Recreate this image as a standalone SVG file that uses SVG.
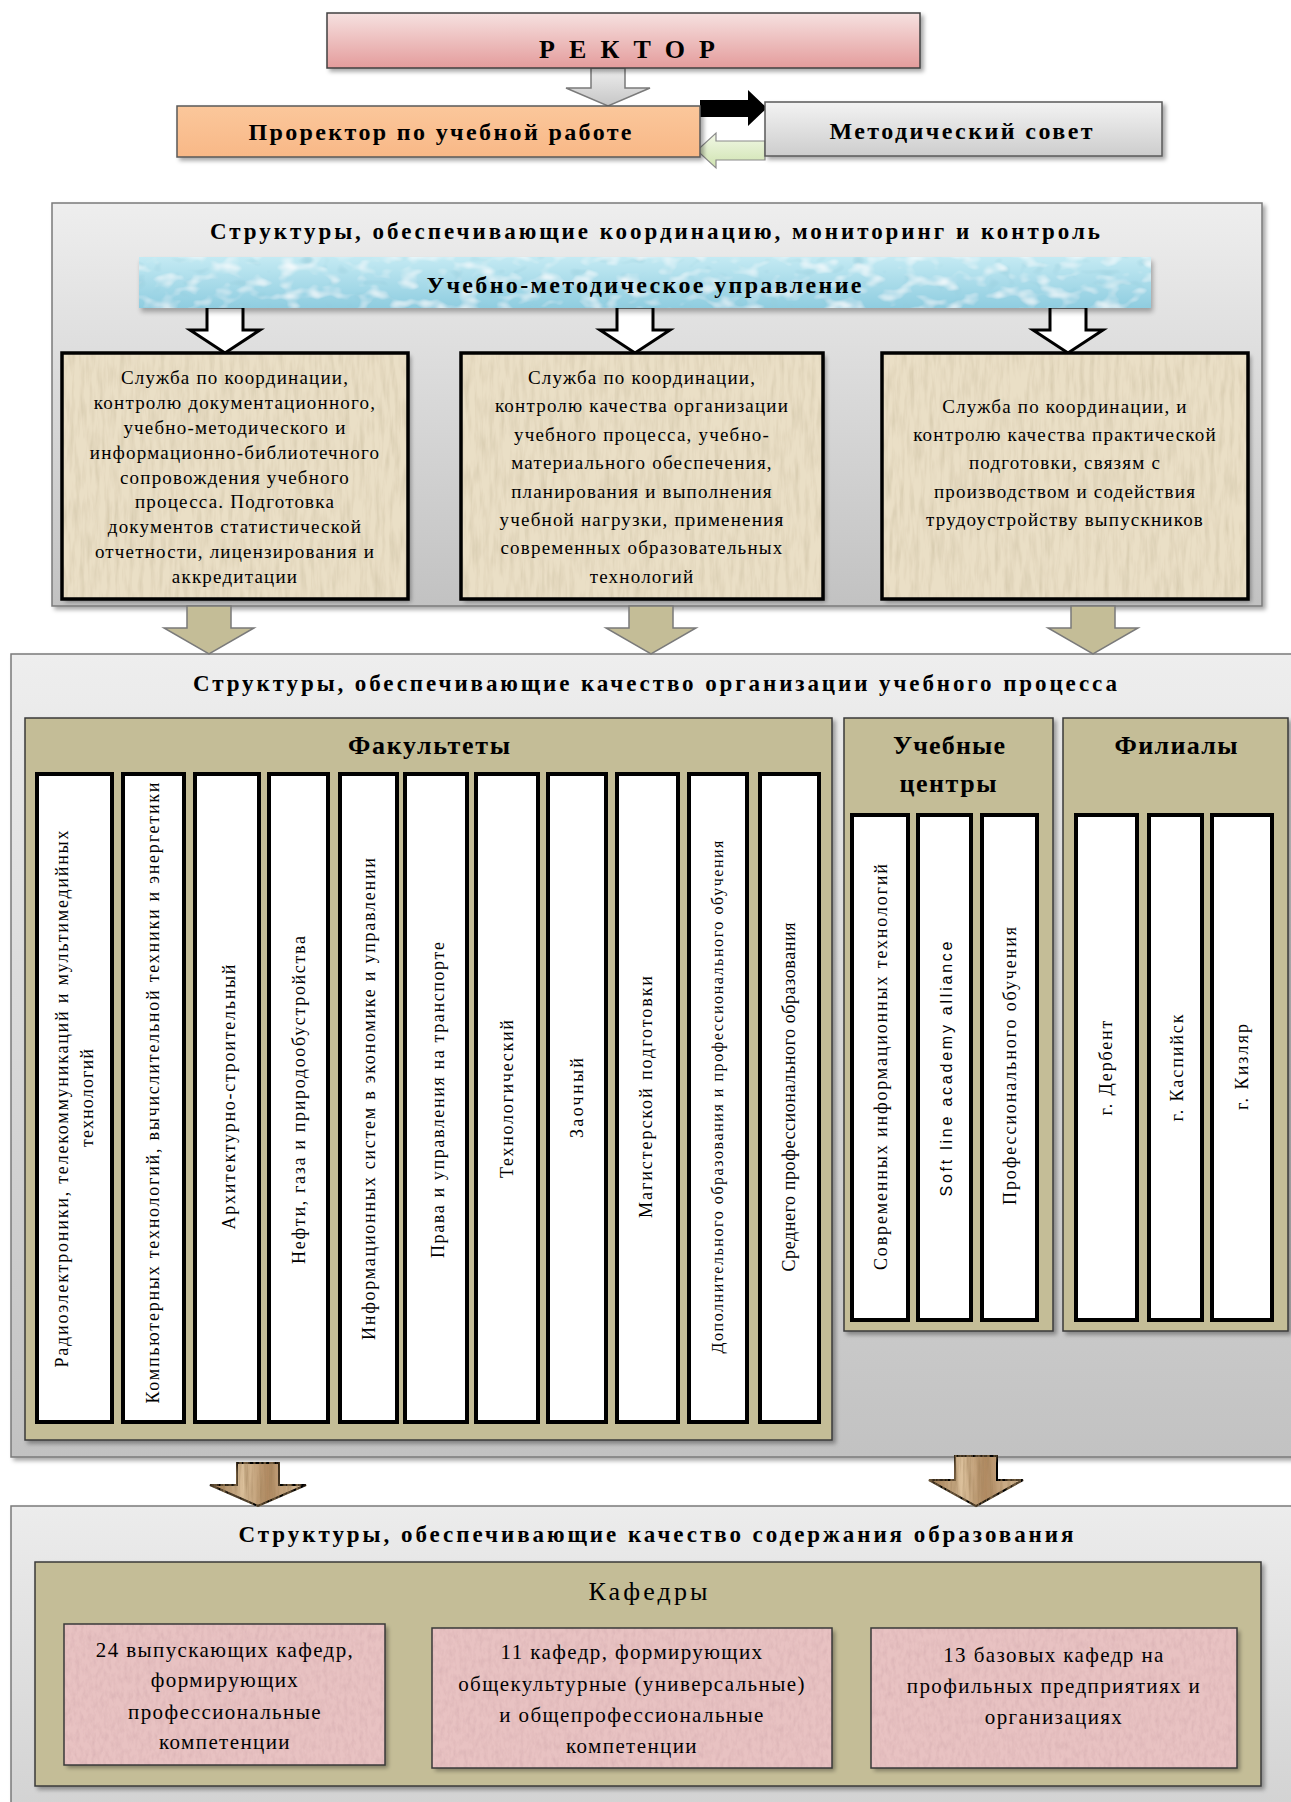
<svg xmlns="http://www.w3.org/2000/svg" width="1291" height="1802" viewBox="0 0 1291 1802">
<style>
.t{font-family:"Liberation Serif","Times New Roman",serif;fill:#000;text-anchor:middle}
.b{font-weight:bold}
.s{font-size:19px;letter-spacing:1.2px}
.p{font-size:21px;letter-spacing:1.4px}
.v{font-size:18px}
.col{fill:#fff;stroke:#000;stroke-width:4}
.panel{fill:#c4bd97;stroke:#3a3a3a;stroke-width:1.5}
.big{fill:url(#gBig);stroke:#7a7a7a;stroke-width:1.5}
.svc{fill:#eadfc6;stroke:none}
.svcb{fill:none;stroke:#000;stroke-width:3.5}
.pink{fill:#e8c2c2;stroke:none}
.pinkb{fill:none;stroke:#3a3a3a;stroke-width:1.5}
.warr{fill:#fff;stroke:#000;stroke-width:3}
.tarr{fill:#c4bd97;stroke:#7a7a7a;stroke-width:1.5}
.barr{fill:url(#gWood);stroke:#000;stroke-width:2}
</style>
<defs>
<linearGradient id="gRector" x1="0" y1="0" x2="0" y2="1"><stop offset="0" stop-color="#f6e1e0"/><stop offset="1" stop-color="#e49c9c"/></linearGradient>
<linearGradient id="gOrange" x1="0" y1="0" x2="0" y2="1"><stop offset="0" stop-color="#fbc79b"/><stop offset="1" stop-color="#f8b887"/></linearGradient>
<linearGradient id="gMet" x1="0" y1="0" x2="0" y2="1"><stop offset="0" stop-color="#f3f3f3"/><stop offset="1" stop-color="#cdcdcd"/></linearGradient>
<linearGradient id="gBig" x1="0" y1="0" x2="0" y2="1"><stop offset="0" stop-color="#eeeeee"/><stop offset="1" stop-color="#c2c2c2"/></linearGradient>
<linearGradient id="gBig3" x1="0" y1="0" x2="0" y2="1"><stop offset="0" stop-color="#ececec"/><stop offset="1" stop-color="#d2d2d2"/></linearGradient>
<linearGradient id="gGrayArr" x1="0" y1="0" x2="0" y2="1"><stop offset="0" stop-color="#eeeeee"/><stop offset="1" stop-color="#c6c6c6"/></linearGradient>
<linearGradient id="gGreen" x1="0" y1="0" x2="0" y2="1"><stop offset="0" stop-color="#f2f8e6"/><stop offset="1" stop-color="#cfe3b0"/></linearGradient>
<linearGradient id="gBlue" x1="0" y1="0" x2="0" y2="1"><stop offset="0" stop-color="#c4eaf3"/><stop offset="1" stop-color="#8fcde0"/></linearGradient>
<linearGradient id="gWood" x1="0" y1="0" x2="1" y2="0"><stop offset="0" stop-color="#9a744c"/><stop offset="0.35" stop-color="#dcc19c"/><stop offset="0.6" stop-color="#b08a62"/><stop offset="1" stop-color="#e2c9a6"/></linearGradient>
<filter id="sh" x="-10%" y="-10%" width="125%" height="130%">
<feDropShadow dx="3" dy="3" stdDeviation="2" flood-color="#000" flood-opacity="0.35"/>
</filter>
<filter id="paper" x="-3%" y="-3%" width="108%" height="108%">
<feTurbulence type="fractalNoise" baseFrequency="0.2 0.03" numOctaves="3" seed="4" result="n"/>
<feColorMatrix in="n" type="matrix" values="0 0 0 0 0.5  0 0 0 0 0.42  0 0 0 0 0.26  0 0 0 0.8 -0.32" result="c"/>
<feComposite in="c" in2="SourceGraphic" operator="in" result="t"/>
<feOffset in="SourceAlpha" dx="3" dy="3" result="o"/>
<feGaussianBlur in="o" stdDeviation="2" result="ob"/>
<feComponentTransfer in="ob" result="s"><feFuncA type="linear" slope="0.35"/></feComponentTransfer>
<feMerge><feMergeNode in="s"/><feMergeNode in="SourceGraphic"/><feMergeNode in="t"/></feMerge>
</filter>
<filter id="pinktex" x="-3%" y="-3%" width="108%" height="108%">
<feTurbulence type="fractalNoise" baseFrequency="0.25 0.12" numOctaves="3" seed="9" result="n"/>
<feColorMatrix in="n" type="matrix" values="0 0 0 0 0.65  0 0 0 0 0.4  0 0 0 0 0.42  0 0 0 1.1 -0.42" result="c"/>
<feComposite in="c" in2="SourceGraphic" operator="in" result="t"/>
<feOffset in="SourceAlpha" dx="3" dy="3" result="o"/>
<feGaussianBlur in="o" stdDeviation="2" result="ob"/>
<feComponentTransfer in="ob" result="s"><feFuncA type="linear" slope="0.35"/></feComponentTransfer>
<feMerge><feMergeNode in="s"/><feMergeNode in="SourceGraphic"/><feMergeNode in="t"/></feMerge>
</filter>
<filter id="water" x="-2%" y="-10%" width="104%" height="130%">
<feTurbulence type="fractalNoise" baseFrequency="0.05 0.08" numOctaves="2" seed="2" result="n"/>
<feColorMatrix in="n" type="matrix" values="0 0 0 0 1  0 0 0 0 1  0 0 0 0 1  0 0 0 2.0 -1.0" result="c"/>
<feComposite in="c" in2="SourceGraphic" operator="in" result="t"/>
<feTurbulence type="turbulence" baseFrequency="0.06 0.09" numOctaves="1" seed="11" result="n2"/>
<feColorMatrix in="n2" type="matrix" values="0 0 0 0 0.3  0 0 0 0 0.6  0 0 0 0 0.7  0 0 0 1.6 -0.5" result="c2"/>
<feComposite in="c2" in2="SourceGraphic" operator="in" result="t2"/>
<feOffset in="SourceAlpha" dx="2" dy="4" result="o"/>
<feGaussianBlur in="o" stdDeviation="2.5" result="ob"/>
<feComponentTransfer in="ob" result="s"><feFuncA type="linear" slope="0.3"/></feComponentTransfer>
<feMerge><feMergeNode in="s"/><feMergeNode in="SourceGraphic"/><feMergeNode in="t2"/><feMergeNode in="t"/></feMerge>
</filter>
<filter id="wood" x="-5%" y="-5%" width="110%" height="110%">
<feTurbulence type="fractalNoise" baseFrequency="0.3 0.02" numOctaves="3" seed="5" result="n"/>
<feColorMatrix in="n" type="matrix" values="0 0 0 0 0.35  0 0 0 0 0.22  0 0 0 0 0.1  0 0 0 1.4 -0.5" result="c"/>
<feComposite in="c" in2="SourceGraphic" operator="in" result="t"/>
<feMerge><feMergeNode in="SourceGraphic"/><feMergeNode in="t"/></feMerge>
</filter>
</defs>

<!-- big containers -->
<g id="block-coordination">
<rect class="big" x="52" y="203" width="1210" height="403" filter="url(#sh)"/>
<text class="t b" x="655" y="239" font-size="23" textLength="890" lengthAdjust="spacing">Структуры, обеспечивающие координацию, мониторинг и контроль</text>
</g>
<g id="block-organization">
<rect class="big" x="11" y="654" width="1300" height="803" filter="url(#sh)"/>
<text class="t b" x="655" y="691" font-size="23" textLength="924" lengthAdjust="spacing">Структуры, обеспечивающие качество организации учебного процесса</text>
</g>
<g id="block-content">
<rect x="11" y="1506" width="1300" height="310" fill="url(#gBig3)" stroke="#7a7a7a" stroke-width="1.5" filter="url(#sh)"/>
<text class="t b" x="656" y="1542" font-size="23" textLength="835" lengthAdjust="spacing">Структуры, обеспечивающие качество содержания образования</text>
</g>

<!-- connectors -->
<g id="connectors">
<path d="M591,68 H625 V88 H650 L608,106 L566,88 H591 Z" fill="url(#gGrayArr)" stroke="#7a7a7a" stroke-width="1.5"/>
<path d="M700,100 H748 V90 L767,108 L748,126 V117 H700 Z" fill="#000"/>
<path d="M765,141 H716 V133 L697,150.5 L716,168 V160 H765 Z" fill="url(#gGreen)" stroke="#8a8a8a" stroke-width="1.2"/>
<path class="warr" d="M207,307 H243 V330 H260 L225,353 L190,330 H207 Z"/>
<path class="warr" d="M617,307 H653 V330 H670 L635,353 L600,330 H617 Z"/>
<path class="warr" d="M1050,307 H1086 V330 H1103 L1068,353 L1033,330 H1050 Z"/>
<path class="tarr" d="M187,606 H231 V628 H254 L209,654 L164,628 H187 Z"/>
<path class="tarr" d="M629,606 H673 V628 H696 L651,654 L606,628 H629 Z"/>
<path class="tarr" d="M1071,606 H1115 V628 H1138 L1093,654 L1048,628 H1071 Z"/>
<path class="barr" filter="url(#wood)" d="M237,1463 H279 V1485 H306 L258,1506 L210,1485 H237 Z"/>
<path class="barr" filter="url(#wood)" d="M955,1456 H997 V1480 H1023 L976,1506 L929,1480 H955 Z"/>
</g>

<!-- top nodes -->
<g id="rector">
<rect x="327" y="13" width="593" height="55" fill="url(#gRector)" stroke="#404040" stroke-width="1.5" filter="url(#sh)"/>
<text class="t b" x="627" y="58" font-size="26" textLength="176" lengthAdjust="spacing">РЕКТОР</text>
</g>
<g id="prorector">
<rect x="177" y="106" width="523" height="51" fill="url(#gOrange)" stroke="#595959" stroke-width="1.5" filter="url(#sh)"/>
<text class="t b" x="440" y="140" font-size="24" textLength="383" lengthAdjust="spacing">Проректор по учебной работе</text>
</g>
<g id="method-council">
<rect x="765" y="102" width="397" height="54" fill="url(#gMet)" stroke="#595959" stroke-width="1.5" filter="url(#sh)"/>
<text class="t b" x="961" y="139" font-size="24" textLength="263" lengthAdjust="spacing">Методический совет</text>
</g>

<g id="umu">
<rect x="139" y="257" width="1012" height="51" fill="url(#gBlue)" filter="url(#water)"/>
<text class="t b" x="644" y="293" font-size="24" textLength="435" lengthAdjust="spacing">Учебно-методическое управление</text>
</g>

<!-- services -->
<g id="service-1">
<rect class="svc" x="62" y="353" width="346" height="246" filter="url(#paper)"/>
<rect class="svcb" x="62" y="353" width="346" height="246"/>
<text class="t s" x="235" y="384">Служба по координации,</text>
<text class="t s" x="235" y="409">контролю документационного,</text>
<text class="t s" x="235" y="434">учебно-методического и</text>
<text class="t s" x="235" y="459">информационно-библиотечного</text>
<text class="t s" x="235" y="484">сопровождения учебного</text>
<text class="t s" x="235" y="508">процесса. Подготовка</text>
<text class="t s" x="235" y="533">документов статистической</text>
<text class="t s" x="235" y="558">отчетности, лицензирования и</text>
<text class="t s" x="235" y="583">аккредитации</text>
</g>
<g id="service-2">
<rect class="svc" x="461" y="353" width="362" height="246" filter="url(#paper)"/>
<rect class="svcb" x="461" y="353" width="362" height="246"/>
<text class="t s" x="642" y="384">Служба по координации,</text>
<text class="t s" x="642" y="412">контролю качества организации</text>
<text class="t s" x="642" y="441">учебного процесса, учебно-</text>
<text class="t s" x="642" y="469">материального обеспечения,</text>
<text class="t s" x="642" y="498">планирования и выполнения</text>
<text class="t s" x="642" y="526">учебной нагрузки, применения</text>
<text class="t s" x="642" y="554">современных образовательных</text>
<text class="t s" x="642" y="583">технологий</text>
</g>
<g id="service-3">
<rect class="svc" x="882" y="353" width="366" height="246" filter="url(#paper)"/>
<rect class="svcb" x="882" y="353" width="366" height="246"/>
<text class="t s" x="1065" y="413">Служба по координации, и</text>
<text class="t s" x="1065" y="441">контролю качества практической</text>
<text class="t s" x="1065" y="469">подготовки, связям с</text>
<text class="t s" x="1065" y="498">производством и содействия</text>
<text class="t s" x="1065" y="526">трудоустройству выпускников</text>
</g>

<!-- faculties -->
<g id="faculties">
<rect class="panel" x="25" y="718" width="807" height="722" filter="url(#sh)"/>
<text class="t b" x="429" y="754" font-size="26" textLength="162" lengthAdjust="spacing">Факультеты</text>
<rect class="col" x="37" y="774" width="75" height="648"/>
<rect class="col" x="123" y="774" width="61" height="648"/>
<rect class="col" x="195" y="774" width="64" height="648"/>
<rect class="col" x="269" y="774" width="59" height="648"/>
<rect class="col" x="340" y="774" width="57" height="648"/>
<rect class="col" x="405" y="774" width="62" height="648"/>
<rect class="col" x="476" y="774" width="62" height="648"/>
<rect class="col" x="548" y="774" width="58" height="648"/>
<rect class="col" x="617" y="774" width="61" height="648"/>
<rect class="col" x="689" y="774" width="58" height="648"/>
<rect class="col" x="760" y="774" width="59" height="648"/>
<text class="t v" transform="translate(62,1099) rotate(-90)" dy="0.35em" textLength="537" lengthAdjust="spacing">Радиоэлектроники, телекоммуникаций и мультимедийных</text>
<text class="t v" transform="translate(87,1098) rotate(-90)" dy="0.35em" textLength="98" lengthAdjust="spacing">технологий</text>
<text class="t v" transform="translate(153,1093) rotate(-90)" dy="0.35em" textLength="621" lengthAdjust="spacing">Компьютерных технологий, вычислительной техники   и энергетики</text>
<text class="t v" transform="translate(229,1097) rotate(-90)" dy="0.35em" textLength="265" lengthAdjust="spacing">Архитектурно-строительный</text>
<text class="t v" transform="translate(299,1100) rotate(-90)" dy="0.35em" textLength="328" lengthAdjust="spacing">Нефти, газа и природообустройства</text>
<text class="t v" transform="translate(369,1099) rotate(-90)" dy="0.35em" textLength="482" lengthAdjust="spacing">Информационных систем в экономике и управлении</text>
<text class="t v" transform="translate(438,1100) rotate(-90)" dy="0.35em" textLength="316" lengthAdjust="spacing">Права и управления на транспорте</text>
<text class="t v" transform="translate(507,1099) rotate(-90)" dy="0.35em" textLength="158" lengthAdjust="spacing">Технологический</text>
<text class="t v" transform="translate(577,1098) rotate(-90)" dy="0.35em" textLength="80" lengthAdjust="spacing">Заочный</text>
<text class="t v" transform="translate(646,1097) rotate(-90)" dy="0.35em" textLength="242" lengthAdjust="spacing">Магистерской подготовки</text>
<text class="t" font-size="16" transform="translate(717,1097) rotate(-90)" dy="0.35em" textLength="513" lengthAdjust="spacing">Дополнительного образования и профессионального обучения</text>
<text class="t v" transform="translate(789,1097) rotate(-90)" dy="0.35em" textLength="349" lengthAdjust="spacing">Среднего профессионального образования</text>
</g>

<!-- training centers -->
<g id="training-centers">
<rect class="panel" x="844" y="718" width="209" height="613" filter="url(#sh)"/>
<text class="t b" x="949" y="754" font-size="26" textLength="112" lengthAdjust="spacing">Учебные</text>
<text class="t b" x="948" y="792" font-size="26" textLength="97" lengthAdjust="spacing">центры</text>
<rect class="col" x="852" y="815" width="56" height="505"/>
<rect class="col" x="918" y="815" width="53" height="505"/>
<rect class="col" x="982" y="815" width="55" height="505"/>
<text class="t v" transform="translate(881,1067) rotate(-90)" dy="0.35em" textLength="406" lengthAdjust="spacing">Современных информационных технологий</text>
<text class="t" style="font-family:'Liberation Sans',Arial,sans-serif;font-size:16px" transform="translate(946,1069) rotate(-90)" dy="0.35em" textLength="255" lengthAdjust="spacing">Soft line academy alliance</text>
<text class="t v" transform="translate(1010,1066) rotate(-90)" dy="0.35em" textLength="278" lengthAdjust="spacing">Профессионального обучения</text>
</g>

<!-- branches -->
<g id="branches">
<rect class="panel" x="1063" y="718" width="225" height="613" filter="url(#sh)"/>
<text class="t b" x="1176" y="754" font-size="26" textLength="123" lengthAdjust="spacing">Филиалы</text>
<rect class="col" x="1076" y="815" width="61" height="505"/>
<rect class="col" x="1149" y="815" width="53" height="505"/>
<rect class="col" x="1212" y="815" width="60" height="505"/>
<text class="t v" transform="translate(1106,1068) rotate(-90)" dy="0.35em" textLength="95" lengthAdjust="spacing">г. Дербент</text>
<text class="t v" transform="translate(1177,1068) rotate(-90)" dy="0.35em" textLength="107" lengthAdjust="spacing">г. Каспийск</text>
<text class="t v" transform="translate(1242,1067) rotate(-90)" dy="0.35em" textLength="86" lengthAdjust="spacing">г. Кизляр</text>
</g>

<!-- departments -->
<g id="departments">
<rect class="panel" x="35" y="1562" width="1226" height="224" filter="url(#sh)"/>
<text class="t" x="648" y="1600" font-size="26" textLength="119" lengthAdjust="spacing">Кафедры</text>
</g>
<g id="dept-graduating">
<rect class="pink" x="64" y="1624" width="321" height="141" filter="url(#pinktex)"/>
<rect class="pinkb" x="64" y="1624" width="321" height="141"/>
<text class="t p" x="225" y="1657">24 выпускающих кафедр,</text>
<text class="t p" x="225" y="1687">формирующих</text>
<text class="t p" x="225" y="1719">профессиональные</text>
<text class="t p" x="225" y="1749">компетенции</text>
</g>
<g id="dept-general">
<rect class="pink" x="432" y="1628" width="400" height="140" filter="url(#pinktex)"/>
<rect class="pinkb" x="432" y="1628" width="400" height="140"/>
<text class="t p" x="632" y="1659">11 кафедр, формирующих</text>
<text class="t p" x="632" y="1691">общекультурные (универсальные)</text>
<text class="t p" x="632" y="1722">и общепрофессиональные</text>
<text class="t p" x="632" y="1753">компетенции</text>
</g>
<g id="dept-base">
<rect class="pink" x="871" y="1628" width="366" height="140" filter="url(#pinktex)"/>
<rect class="pinkb" x="871" y="1628" width="366" height="140"/>
<text class="t p" x="1054" y="1662">13 базовых кафедр на</text>
<text class="t p" x="1054" y="1693">профильных предприятиях и</text>
<text class="t p" x="1054" y="1724">организациях</text>
</g>
</svg>
